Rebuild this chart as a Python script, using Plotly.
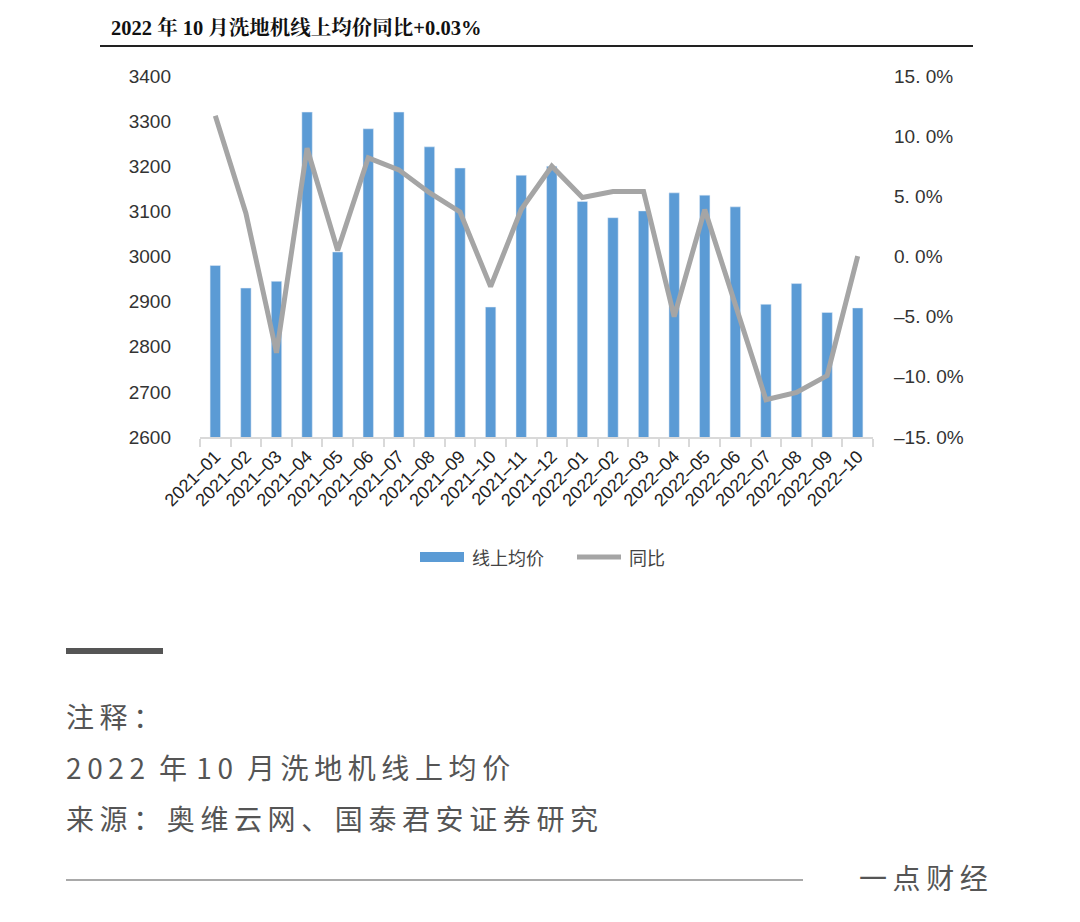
import plotly.graph_objects as go

months = ["2021-01", "2021-02", "2021-03", "2021-04", "2021-05", "2021-06", "2021-07",
          "2021-08", "2021-09", "2021-10", "2021-11", "2021-12", "2022-01", "2022-02",
          "2022-03", "2022-04", "2022-05", "2022-06", "2022-07", "2022-08", "2022-09", "2022-10"]
month_labels = [m.replace("-", "–") for m in months]
avg_price = [2980, 2930, 2945, 3320, 3010, 3283, 3320, 3243, 3196, 2888, 3180, 3200,
             3122, 3086, 3101, 3141, 3136, 3110, 2894, 2940, 2876, 2886]
yoy_pct = [11.7, 3.6, -8.0, 9.0, 0.5, 8.2, 7.2, 5.3, 3.7, -2.5, 3.9, 7.5,
           4.9, 5.4, 5.4, -5.0, 3.9, -4.1, -11.9, -11.3, -9.9, 0.03]
left_ticks = [2600, 2700, 2800, 2900, 3000, 3100, 3200, 3300, 3400]
right_ticks = [-15, -10, -5, 0, 5, 10, 15]
right_labels = ["–15. 0%", "–10. 0%", "–5. 0%", "0. 0%", "5. 0%", "10. 0%", "15. 0%"]

W, H = 1080, 922
OFF = 8  # page body margin
def px(x):
    return (x - OFF) / W
def py(y):
    return 1 - (y - OFF) / H

def spaced(s):
    return "\u2009".join(list(s))

fig = go.Figure()
fig.add_trace(go.Bar(x=months, y=avg_price, name="线上均价", marker_color="#5B9BD5",
                     width=0.34, yaxis="y", showlegend=False))
fig.add_trace(go.Scatter(x=months, y=yoy_pct, name="同比", mode="lines",
                         line=dict(color="#A5A5A5", width=5), yaxis="y2", showlegend=False))

tickfont = dict(family="Liberation Sans, Arial, sans-serif", size=19, color="#333333")
fig.update_layout(
    width=W, height=H,
    margin=dict(l=0, r=0, t=0, b=0, autoexpand=False),
    paper_bgcolor="white", plot_bgcolor="white",
    showlegend=False,
    xaxis=dict(domain=[px(200), px(873)], type="category", tickangle=-45,
               tickvals=months, ticktext=month_labels, automargin=False,
               tickfont=dict(family="Liberation Sans, Arial, sans-serif", size=18, color="#222222"),
               showline=True, linecolor="#D9D9D9", linewidth=2,
               ticks="outside", ticklen=8, tickcolor="#D9D9D9", tickwidth=2,
               tickson="boundaries", showgrid=False),
    yaxis=dict(domain=[py(437), py(76)], range=[2600, 3400], tickvals=left_ticks,
               tickfont=tickfont, showgrid=False, zeroline=False, showline=False,
               ticks="", ticklabelstandoff=28, automargin=False),
    yaxis2=dict(overlaying="y", side="right", range=[-15, 15], tickvals=right_ticks,
                ticktext=right_labels, tickfont=tickfont, showgrid=False, zeroline=False,
                showline=False, ticks="", ticklabelstandoff=20, automargin=False),
)

shapes = [
    dict(type="line", xref="paper", yref="paper", x0=px(100), x1=px(973), y0=py(46), y1=py(46),
         line=dict(color="#222222", width=2)),
    dict(type="line", xref="paper", yref="paper", x0=px(66), x1=px(163), y0=py(651), y1=py(651),
         line=dict(color="#555555", width=6)),
    dict(type="line", xref="paper", yref="paper", x0=px(66), x1=px(803), y0=py(880), y1=py(880),
         line=dict(color="#555555", width=1.2)),
    # legend swatches
    dict(type="rect", xref="paper", yref="paper", x0=px(420), x1=px(464), y0=py(562), y1=py(552),
         fillcolor="#5B9BD5", line=dict(width=0)),
    dict(type="line", xref="paper", yref="paper", x0=px(577), x1=px(621), y0=py(557), y1=py(557),
         line=dict(color="#A5A5A5", width=5)),
]
fig.update_layout(shapes=shapes)

note_line = (spaced("2022") + "\u2002年\u2004" + spaced("10") + "\u2002月\u2009"
             + spaced("洗地机线上均价"))

annos = [
    dict(text="<b>2022 年 10 月洗地机线上均价同比+0.03%</b>", x=px(109), y=py(28),
         font=dict(family="Liberation Serif, Noto Serif CJK SC, Noto Sans CJK SC", size=20.5, color="#111111")),
    dict(text="线上均价", x=px(470), y=py(557),
         font=dict(family="Noto Sans CJK SC", size=18, color="#444444")),
    dict(text="同比", x=px(627), y=py(557),
         font=dict(family="Noto Sans CJK SC", size=18, color="#444444")),
    dict(text=spaced("注释："), x=px(64), y=py(716),
         font=dict(family="Noto Sans CJK SC", size=28, color="#555555")),
    dict(text=note_line, x=px(64), y=py(767),
         font=dict(family="Noto Sans CJK SC", size=28, color="#555555")),
    dict(text=spaced("来源：奥维云网、国泰君安证券研究"), x=px(64), y=py(818),
         font=dict(family="Noto Sans CJK SC", size=28, color="#555555")),
    dict(text=spaced("一点财经"), x=px(857), y=py(877),
         font=dict(family="Noto Sans CJK SC", size=28, color="#555555")),
]
for a in annos:
    a.update(xref="paper", yref="paper", xanchor="left", yanchor="middle", showarrow=False)
fig.update_layout(annotations=annos)

fig.write_html("out.html")
